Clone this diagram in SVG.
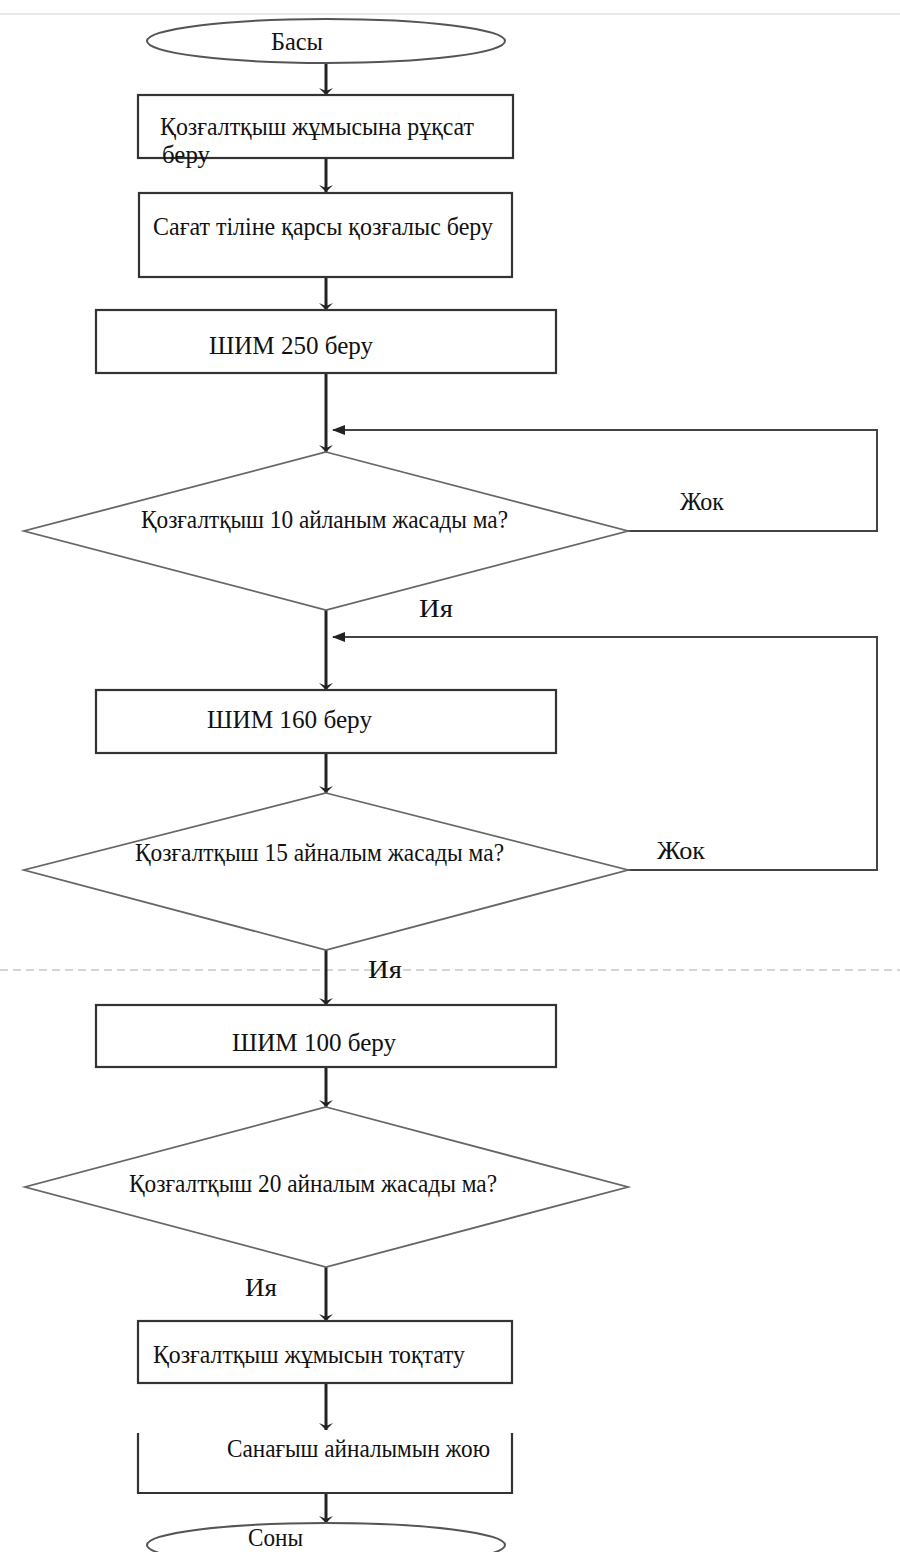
<svg xmlns="http://www.w3.org/2000/svg" width="900" height="1552" viewBox="0 0 900 1552">
<style>
.t{font-family:"Liberation Serif","Times New Roman",serif;font-size:26px;fill:#111}
.d{font-size:25px}
.box{fill:#fff;stroke:#333;stroke-width:2.2}
.dia{fill:#fff;stroke:#666;stroke-width:1.8}
.ell{fill:#fff;stroke:#555;stroke-width:2}
.v{fill:none;stroke:#222;stroke-width:3}
.h{fill:none;stroke:#444;stroke-width:2}
</style>
<defs>
<marker id="ad" markerUnits="userSpaceOnUse" markerWidth="14" markerHeight="10" refX="7" refY="9" viewBox="0 0 14 10" orient="0">
<path d="M0,2 L7,9 L14,2 L7,5 z" fill="#222"/>
</marker>
<marker id="al" markerUnits="userSpaceOnUse" markerWidth="14" markerHeight="12" refX="2" refY="6" viewBox="0 0 14 12" orient="0">
<path d="M14,1 L1,6 L14,11 z" fill="#222"/>
</marker>
</defs>
<rect width="900" height="1552" fill="#fff"/>
<line x1="0" y1="14" x2="900" y2="14" stroke="#e2e2e2" stroke-width="1.5"/>
<line x1="0" y1="970" x2="900" y2="970" stroke="#c8c8c8" stroke-width="1.5" stroke-dasharray="8,5"/>

<g id="connectors">
<path class="v" d="M326,63 V95" marker-end="url(#ad)"/>
<path class="v" d="M326,158 V192" marker-end="url(#ad)"/>
<path class="v" d="M326,277 V310" marker-end="url(#ad)"/>
<path class="v" d="M326,373 V452" marker-end="url(#ad)"/>
<path class="h" d="M628,531 H877 V430 H333" marker-end="url(#al)"/>
<path class="v" d="M326,610 V690" marker-end="url(#ad)"/>
<path class="h" d="M628,870 H877 V637 H333" marker-end="url(#al)"/>
<path class="v" d="M326,753 V793" marker-end="url(#ad)"/>
<path class="v" d="M326,950 V1005" marker-end="url(#ad)"/>
<path class="v" d="M326,1067 V1107" marker-end="url(#ad)"/>
<path class="v" d="M326,1267 V1321" marker-end="url(#ad)"/>
<path class="v" d="M326,1383 V1430" marker-end="url(#ad)"/>
<path class="v" d="M326,1493 V1523" marker-end="url(#ad)"/>
</g>

<g id="start">
<ellipse class="ell" cx="326" cy="41" rx="179" ry="22"/>
<text class="t" x="271" y="50" textLength="52" lengthAdjust="spacingAndGlyphs">Басы</text>
</g>

<g id="box1">
<rect class="box" x="138" y="95" width="375" height="63"/>
<text class="t" x="160" y="135" textLength="314" lengthAdjust="spacingAndGlyphs">Қозғалтқыш жұмысына рұқсат</text>
<text class="t" x="162" y="163" textLength="48" lengthAdjust="spacingAndGlyphs">беру</text>
</g>

<g id="box2">
<rect class="box" x="139" y="193" width="373" height="84"/>
<text class="t" x="153" y="235" textLength="340" lengthAdjust="spacingAndGlyphs">Сағат тіліне қарсы қозғалыс беру</text>
</g>

<g id="box3">
<rect class="box" x="96" y="310" width="460" height="63"/>
<text class="t" x="209" y="354" textLength="164" lengthAdjust="spacingAndGlyphs">ШИМ 250 беру</text>
</g>

<g id="dec1">
<polygon class="dia" points="326,452 628,531 326,610 24,531"/>
<text class="t d" x="141" y="528" textLength="367" lengthAdjust="spacingAndGlyphs">Қозғалтқыш 10 айланым жасады ма?</text>
<text class="t d" x="680" y="510" textLength="44" lengthAdjust="spacingAndGlyphs">Жок</text>
<text class="t d" x="419" y="617" textLength="34" lengthAdjust="spacingAndGlyphs">Ия</text>
</g>

<g id="box4">
<rect class="box" x="96" y="690" width="460" height="63"/>
<text class="t" x="207" y="728" textLength="165" lengthAdjust="spacingAndGlyphs">ШИМ 160 беру</text>
</g>

<g id="dec2">
<polygon class="dia" points="326,793 628,870 326,950 24,870"/>
<text class="t d" x="135" y="861" textLength="369" lengthAdjust="spacingAndGlyphs">Қозғалтқыш 15 айналым жасады ма?</text>
<text class="t d" x="657" y="859" textLength="48" lengthAdjust="spacingAndGlyphs">Жок</text>
<text class="t d" x="368" y="978" textLength="34" lengthAdjust="spacingAndGlyphs">Ия</text>
</g>

<g id="box5">
<rect class="box" x="96" y="1005" width="460" height="62"/>
<text class="t" x="232" y="1051" textLength="164" lengthAdjust="spacingAndGlyphs">ШИМ 100 беру</text>
</g>

<g id="dec3">
<polygon class="dia" points="326,1107 628,1187 326,1267 25,1187"/>
<text class="t d" x="129" y="1192" textLength="368" lengthAdjust="spacingAndGlyphs">Қозғалтқыш 20 айналым жасады ма?</text>
<text class="t d" x="245" y="1296" textLength="32" lengthAdjust="spacingAndGlyphs">Ия</text>
</g>

<g id="box6">
<rect class="box" x="138" y="1321" width="374" height="62"/>
<text class="t" x="153" y="1363" textLength="312" lengthAdjust="spacingAndGlyphs">Қозғалтқыш жұмысын тоқтату</text>
</g>

<g id="box7">
<path d="M138,1433 V1493 H512 V1433" fill="#fff" stroke="#333" stroke-width="2.2"/>
<text class="t" x="227" y="1457" textLength="263" lengthAdjust="spacingAndGlyphs">Санағыш айналымын жою</text>
</g>

<g id="end">
<ellipse class="ell" cx="326" cy="1545" rx="179" ry="22"/>
<text class="t" x="248" y="1546" font-size="24" textLength="55" lengthAdjust="spacingAndGlyphs">Соны</text>
</g>
</svg>
